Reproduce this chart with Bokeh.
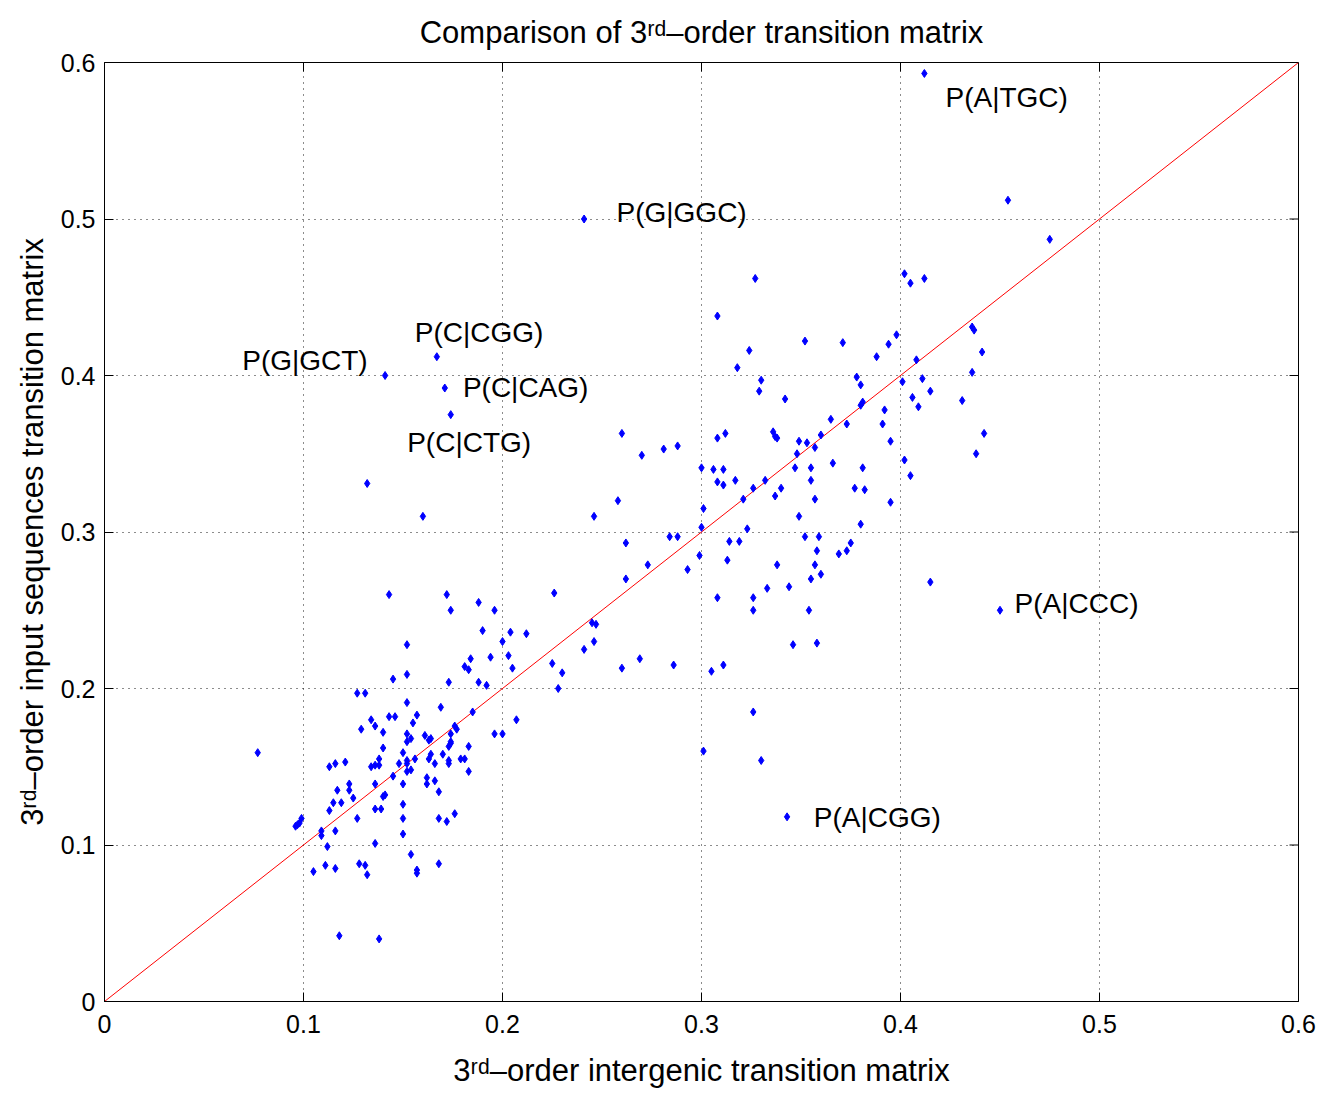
import math
from bokeh.plotting import figure
from bokeh.models import ColumnDataSource, FixedTicker, Range1d
from bokeh.core.properties import value
from bokeh.embed import file_html
from bokeh.resources import INLINE

# ---------------- data ----------------
INTERGENIC = [
    0.143, 0.172, 0.174, 0.188, 0.196, 0.226, 0.190, 0.204, 0.212, 0.200,
    0.152, 0.203, 0.184, 0.194, 0.181, 0.183, 0.205, 0.225, 0.145, 0.152,
    0.173, 0.188, 0.192, 0.228, 0.127, 0.131, 0.152, 0.169, 0.143, 0.146,
    0.157, 0.134, 0.155, 0.185, 0.207, 0.129, 0.136, 0.140, 0.152, 0.154,
    0.152, 0.161, 0.163, 0.164, 0.174, 0.176, 0.177, 0.196, 0.200, 0.140,
    0.150, 0.164, 0.170, 0.174, 0.174, 0.173, 0.183, 0.077, 0.134, 0.136,
    0.138, 0.138, 0.148, 0.152, 0.152, 0.152, 0.154, 0.156, 0.163, 0.166,
    0.173, 0.173, 0.179, 0.181, 0.183, 0.113, 0.116, 0.121, 0.145, 0.123,
    0.123, 0.117, 0.136, 0.150, 0.162, 0.162, 0.166, 0.168, 0.125, 0.140,
    0.141, 0.115, 0.119, 0.113, 0.136, 0.139, 0.150, 0.127, 0.150, 0.099,
    0.098, 0.097, 0.096, 0.168, 0.172, 0.176, 0.109, 0.109, 0.116, 0.150,
    0.112, 0.136, 0.154, 0.168, 0.105, 0.111, 0.116, 0.128, 0.131, 0.132,
    0.157, 0.157, 0.118, 0.138, 0.327, 0.308, 0.324, 0.318, 0.352, 0.371,
    0.388, 0.394, 0.398, 0.378, 0.380, 0.401, 0.330, 0.329, 0.342, 0.380,
    0.381, 0.392, 0.365, 0.373, 0.391, 0.260, 0.308, 0.312, 0.336, 0.338,
    0.337, 0.360, 0.349, 0.353, 0.357, 0.348, 0.395, 0.270, 0.281, 0.288,
    0.300, 0.306, 0.311, 0.308, 0.311, 0.317, 0.326, 0.332, 0.337, 0.340,
    0.347, 0.355, 0.355, 0.357, 0.349, 0.366, 0.381, 0.377, 0.382, 0.380,
    0.395, 0.258, 0.246, 0.301, 0.300, 0.321, 0.323, 0.284, 0.288, 0.262,
    0.314, 0.319, 0.352, 0.359, 0.358, 0.369, 0.373, 0.375, 0.299, 0.273,
    0.293, 0.313, 0.338, 0.357, 0.262, 0.355, 0.360, 0.333, 0.344, 0.308,
    0.326, 0.326, 0.354, 0.245, 0.247, 0.246, 0.241, 0.269, 0.346, 0.358,
    0.475, 0.402, 0.405, 0.412, 0.436, 0.437, 0.441, 0.436, 0.408, 0.411,
    0.415, 0.406, 0.409, 0.431, 0.442, 0.438, 0.402, 0.405, 0.415, 0.450,
    0.167, 0.141, 0.171, 0.174, 0.132, 0.160, 0.230, 0.260, 0.286, 0.305,
    0.311, 0.326, 0.301, 0.330, 0.343, 0.412, 0.454, 0.241,
]
INPUT_SEQ = [
    0.260, 0.260, 0.250, 0.255, 0.250, 0.261, 0.237, 0.236, 0.235, 0.230,
    0.228, 0.221, 0.219, 0.220, 0.214, 0.212, 0.213, 0.216, 0.206, 0.209,
    0.204, 0.204, 0.202, 0.200, 0.197, 0.197, 0.191, 0.188, 0.182, 0.182,
    0.183, 0.180, 0.178, 0.185, 0.180, 0.174, 0.176, 0.172, 0.171, 0.168,
    0.166, 0.170, 0.167, 0.168, 0.171, 0.176, 0.174, 0.171, 0.171, 0.162,
    0.159, 0.158, 0.158, 0.165, 0.166, 0.163, 0.163, 0.159, 0.150, 0.151,
    0.151, 0.155, 0.152, 0.154, 0.147, 0.152, 0.148, 0.155, 0.155, 0.152,
    0.154, 0.152, 0.155, 0.155, 0.147, 0.150, 0.152, 0.153, 0.144, 0.139,
    0.135, 0.135, 0.139, 0.139, 0.143, 0.139, 0.141, 0.134, 0.130, 0.131,
    0.132, 0.127, 0.127, 0.122, 0.123, 0.123, 0.126, 0.117, 0.117, 0.117,
    0.114, 0.113, 0.112, 0.117, 0.115, 0.120, 0.109, 0.106, 0.109, 0.107,
    0.099, 0.101, 0.094, 0.088, 0.083, 0.087, 0.085, 0.088, 0.087, 0.081,
    0.084, 0.082, 0.042, 0.040, 0.462, 0.438, 0.416, 0.405, 0.422, 0.421,
    0.412, 0.420, 0.426, 0.399, 0.394, 0.396, 0.397, 0.390, 0.385, 0.381,
    0.383, 0.378, 0.372, 0.369, 0.369, 0.363, 0.360, 0.363, 0.364, 0.360,
    0.361, 0.362, 0.358, 0.357, 0.354, 0.350, 0.358, 0.349, 0.353, 0.355,
    0.341, 0.340, 0.340, 0.332, 0.330, 0.333, 0.328, 0.333, 0.323, 0.328,
    0.341, 0.341, 0.333, 0.321, 0.310, 0.344, 0.341, 0.328, 0.327, 0.305,
    0.319, 0.320, 0.310, 0.315, 0.303, 0.321, 0.302, 0.297, 0.297, 0.293,
    0.294, 0.294, 0.297, 0.297, 0.288, 0.286, 0.288, 0.293, 0.285, 0.279,
    0.276, 0.282, 0.279, 0.279, 0.270, 0.270, 0.273, 0.264, 0.265, 0.258,
    0.258, 0.250, 0.250, 0.242, 0.241, 0.230, 0.225, 0.219, 0.228, 0.229,
    0.487, 0.465, 0.459, 0.462, 0.431, 0.429, 0.415, 0.402, 0.410, 0.398,
    0.390, 0.386, 0.380, 0.384, 0.363, 0.350, 0.346, 0.336, 0.268, 0.250,
    0.412, 0.400, 0.392, 0.375, 0.331, 0.310, 0.210, 0.213, 0.215, 0.211,
    0.215, 0.185, 0.160, 0.154, 0.118, 0.593, 0.512, 0.500,
]

LABEL_TEXT = ["P(A|TGC)", "P(G|GGC)", "P(C|CGG)", "P(G|GCT)",
              "P(C|CAG)", "P(C|CTG)", "P(A|CCC)", "P(A|CGG)"]
LABEL_X = [0.4226, 0.2573, 0.1559, 0.0692, 0.1801, 0.1521, 0.4573, 0.3564]
LABEL_Y = [0.5778, 0.5044, 0.4277, 0.4096, 0.3921, 0.3574, 0.2543, 0.1178]

AXIS_MIN, AXIS_MAX = 0.0, 0.6
DIAGONAL = [AXIS_MIN, AXIS_MAX]
TICKS = [0, 0.1, 0.2, 0.3, 0.4, 0.5, 0.6]
TICK_LABELS = ["0", "0.1", "0.2", "0.3", "0.4", "0.5", "0.6"]

TITLE = "Comparison of 3\u02b3\u1d48\u2013order transition matrix"
X_LABEL = "3\u02b3\u1d48\u2013order intergenic transition matrix"
Y_LABEL = "3\u02b3\u1d48\u2013order input sequences transition matrix"

# ---------------- figure ----------------
FONT = "Liberation Sans"
FS = "28px"
BIG = "31px"

p = figure(frame_width=1194, frame_height=939,
           x_range=Range1d(AXIS_MIN, AXIS_MAX), y_range=Range1d(AXIS_MIN, AXIS_MAX),
           output_backend="svg", toolbar_location=None,
           min_border_left=104, min_border_right=30,
           min_border_top=62, min_border_bottom=84,
           background_fill_color="white", border_fill_color="white",
           title=TITLE)
p.outline_line_color = "black"
p.outline_line_width = 1

p.title.align = "center"
p.title.text_font = FONT
p.title.text_font_size = BIG
p.title.text_font_style = "normal"
p.title.text_color = "black"
p.title.standoff = 25

overrides = {t: l for t, l in zip(TICKS, TICK_LABELS)}
for ax in (p.xaxis[0], p.yaxis[0]):
    ax.ticker = FixedTicker(ticks=TICKS)
    ax.major_label_overrides = overrides
    ax.major_label_text_font = FONT
    ax.major_label_text_font_size = "25px"
    ax.major_label_text_color = "black"
    ax.major_tick_in = 9
    ax.major_tick_out = 0
    ax.minor_tick_line_color = None
    ax.axis_line_color = "black"
    ax.major_tick_line_color = "black"
    ax.axis_label_text_font = FONT
    ax.axis_label_text_font_size = BIG
    ax.axis_label_text_font_style = "normal"
    ax.axis_label_text_color = "black"
p.xaxis[0].axis_label = X_LABEL
p.yaxis[0].axis_label = Y_LABEL
p.xaxis[0].major_label_standoff = 13
p.yaxis[0].major_label_standoff = 9
p.xaxis[0].axis_label_standoff = 17
p.yaxis[0].axis_label_standoff = 8

for g in (p.xgrid[0], p.ygrid[0]):
    g.ticker = FixedTicker(ticks=TICKS)
    g.grid_line_color = "black"
    g.grid_line_dash = "1 5"
    g.grid_line_width = 1
    g.grid_line_alpha = 0.9

# inward ticks on the top and right edges of the box
p.ray(x=TICKS, y=[AXIS_MAX] * len(TICKS), length=9, length_units="screen",
      angle=-math.pi / 2, line_color="black", line_width=1)
p.ray(x=[AXIS_MAX] * len(TICKS), y=TICKS, length=9, length_units="screen",
      angle=math.pi, line_color="black", line_width=1)

src = ColumnDataSource(dict(x=INTERGENIC, y=INPUT_SEQ))
p.line(DIAGONAL, DIAGONAL, line_color="red", line_width=1)
p.scatter(x="x", y="y", source=src, marker="diamond", size=8,
          fill_color="blue", line_color="blue")

lab = ColumnDataSource(dict(x=LABEL_X, y=LABEL_Y, text=LABEL_TEXT))
p.text(x="x", y="y", text="text", source=lab, text_font=value(FONT),
       text_font_size=FS, text_baseline="middle", text_align="left",
       text_color="black")

open("out.html", "w").write(file_html(p, INLINE))
